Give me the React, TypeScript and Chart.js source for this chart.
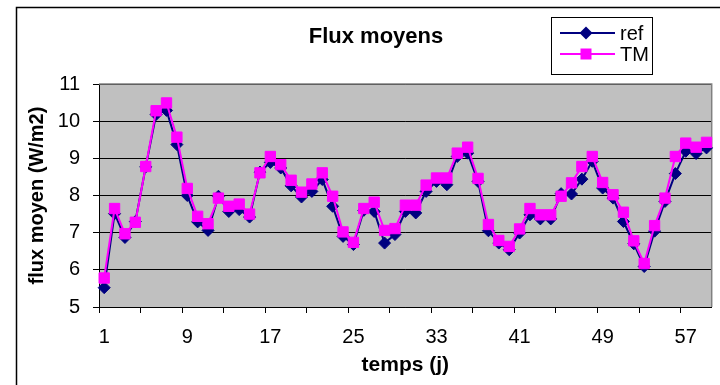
import React, { useEffect, useRef } from "react";
import { Chart, registerables } from "chart.js";

Chart.register(...registerables);

const categories: string[] = Array.from({ length: 59 }, (_, i) => String(i + 1));

const refValues: number[] = [
  5.52, 7.51, 6.87, 7.30, 8.77, 10.18, 10.29, 9.37, 8.00, 7.29,
  7.06, 7.98, 7.57, 7.62, 7.42, 8.63, 8.89, 8.74, 8.26, 7.96,
  8.11, 8.43, 7.71, 6.90, 6.68, 7.60, 7.57, 6.72, 6.95, 7.57,
  7.53, 8.11, 8.38, 8.29, 9.05, 9.14, 8.38, 7.05, 6.72, 6.54,
  6.99, 7.48, 7.37, 7.37, 8.05, 8.04, 8.44, 8.92, 8.20, 7.93,
  7.30, 6.70, 6.09, 7.04, 7.84, 8.59, 9.19, 9.13, 9.28,
];

const tmValues: number[] = [
  5.78, 7.65, 6.97, 7.28, 8.78, 10.28, 10.49, 9.57, 8.19, 7.44,
  7.24, 7.93, 7.71, 7.77, 7.50, 8.61, 9.05, 8.83, 8.41, 8.09,
  8.31, 8.61, 7.98, 7.02, 6.74, 7.65, 7.82, 7.06, 7.11, 7.74,
  7.74, 8.28, 8.47, 8.47, 9.14, 9.30, 8.46, 7.22, 6.79, 6.63,
  7.10, 7.65, 7.48, 7.48, 7.98, 8.34, 8.78, 9.05, 8.35, 8.02,
  7.55, 6.78, 6.17, 7.19, 7.93, 9.05, 9.41, 9.30, 9.43,
];

const seriesNames: string[] = ["ref", "TM"];
const chartTitle = "Flux moyens";
const xTitle = "temps (j)";
const yTitle = "flux moyen (W/m2)";

const FONT = "'Liberation Sans', Arial, sans-serif";
const NAVY = "#000080";
const MAGENTA = "#FF00FF";

const decorPlugin = {
  id: "decor",
  beforeDraw(chart: any) {
    const { ctx, chartArea } = chart;
    ctx.save();
    ctx.fillStyle = "#ffffff";
    ctx.fillRect(0, 0, chart.width, chart.height);
    ctx.fillStyle = "#C0C0C0";
    ctx.fillRect(chartArea.left, chartArea.top, chartArea.right - chartArea.left, chartArea.bottom - chartArea.top);
    ctx.restore();
  },
  beforeDatasetsDraw(chart: any) {
    const { ctx, chartArea } = chart;
    ctx.save();
    ctx.strokeStyle = "#808080";
    ctx.lineWidth = 1.5;
    ctx.beginPath();
    ctx.moveTo(chartArea.left, chartArea.top);
    ctx.lineTo(chartArea.right, chartArea.top);
    ctx.lineTo(chartArea.right, chartArea.bottom);
    ctx.stroke();
    ctx.restore();
  },
  afterDraw(chart: any) {
    const { ctx } = chart;
    ctx.save();
    // outer chart border (top and left visible)
    ctx.strokeStyle = "#000000";
    ctx.lineWidth = 1.5;
    ctx.beginPath();
    ctx.moveTo(16.5, chart.height + 2);
    ctx.lineTo(16.5, 7.5);
    ctx.lineTo(chart.width + 2, 7.5);
    ctx.stroke();

    // title
    ctx.fillStyle = "#000000";
    ctx.font = `bold 22px ${FONT}`;
    ctx.textAlign = "center";
    ctx.textBaseline = "middle";
    ctx.fillText(chartTitle, 376, 37);

    // legend box
    ctx.fillStyle = "#ffffff";
    ctx.fillRect(551, 17, 102, 58);
    ctx.strokeStyle = "#000000";
    ctx.lineWidth = 1;
    ctx.strokeRect(551.5, 17.5, 101, 57);

    const rows = [
      { y: 33, color: NAVY, shape: "diamond", label: seriesNames[0] },
      { y: 54, color: MAGENTA, shape: "square", label: seriesNames[1] },
    ];
    rows.forEach((r) => {
      ctx.strokeStyle = r.color;
      ctx.lineWidth = 2;
      ctx.beginPath();
      ctx.moveTo(560, r.y);
      ctx.lineTo(615, r.y);
      ctx.stroke();
      ctx.fillStyle = r.color;
      ctx.beginPath();
      if (r.shape === "diamond") {
        ctx.moveTo(586, r.y - 6.5);
        ctx.lineTo(592.5, r.y);
        ctx.lineTo(586, r.y + 6.5);
        ctx.lineTo(579.5, r.y);
        ctx.closePath();
      } else {
        ctx.rect(580.5, r.y - 5.5, 11, 11);
      }
      ctx.fill();
      ctx.fillStyle = "#000000";
      ctx.font = `20px ${FONT}`;
      ctx.textAlign = "left";
      ctx.textBaseline = "middle";
      ctx.fillText(r.label, 620, r.y + 1);
    });
    ctx.restore();
  },
};

export default function App() {
  const canvasRef = useRef<HTMLCanvasElement | null>(null);

  useEffect(() => {
    document.body.style.margin = "0";
    const canvas = canvasRef.current;
    if (!canvas) return;
    const chart = new Chart(canvas, {
      type: "line",
      data: {
        labels: categories,
        datasets: [
          {
            label: seriesNames[0],
            data: refValues,
            borderColor: NAVY,
            backgroundColor: NAVY,
            borderWidth: 2,
            pointStyle: "rectRot",
            pointRadius: 6,
            pointBorderWidth: 1,
            pointBackgroundColor: NAVY,
            pointBorderColor: NAVY,
            tension: 0,
            order: 1,
          },
          {
            label: seriesNames[1],
            data: tmValues,
            borderColor: MAGENTA,
            backgroundColor: MAGENTA,
            borderWidth: 2,
            pointStyle: "rect",
            pointRadius: 7.3,
            pointBorderWidth: 1,
            pointBackgroundColor: MAGENTA,
            pointBorderColor: MAGENTA,
            tension: 0,
            order: 0,
          },
        ],
      },
      options: {
        responsive: false,
        animation: false,
        devicePixelRatio: 1,
        layout: { padding: { top: 84, right: 8, left: 0, bottom: 0 } },
        plugins: {
          legend: { display: false },
          title: { display: false },
          tooltip: { enabled: false },
        },
        scales: {
          x: {
            type: "category",
            offset: true,
            afterFit: (scale: any) => {
              scale.height = 78;
            },
            grid: {
              offset: true,
              drawOnChartArea: false,
              drawTicks: true,
              tickLength: 6,
              color: "#000000",
              tickColor: (c: any) => (typeof c.index === "number" && c.index % 4 === 0 ? "#000000" : "rgba(0,0,0,0)"),
            },
            border: { display: true, color: "#000000", width: 1 },
            ticks: {
              autoSkip: false,
              maxRotation: 0,
              minRotation: 0,
              padding: 12,
              color: "#000000",
              font: { family: FONT, size: 20 },
              callback: (_v: any, i: number) => (i % 8 === 0 ? categories[i] : ""),
            },
            title: {
              display: true,
              text: xTitle,
              color: "#000000",
              font: { family: FONT, size: 21, weight: "bold" },
              padding: { top: 0, bottom: 7 },
            },
          },
          y: {
            min: 5,
            max: 11,
            afterFit: (scale: any) => {
              scale.width = 99;
            },
            grid: {
              color: "#000000",
              lineWidth: 1,
              drawTicks: true,
              tickLength: 6,
              tickColor: "#000000",
            },
            border: { display: true, color: "#000000", width: 1 },
            ticks: {
              stepSize: 1,
              padding: 13,
              color: "#000000",
              font: { family: FONT, size: 20 },
            },
            title: {
              display: true,
              text: yTitle,
              color: "#000000",
              font: { family: FONT, size: 20, weight: "bold" },
              padding: { top: 25, bottom: 0 },
            },
          },
        },
      },
      plugins: [decorPlugin],
    });
    return () => chart.destroy();
  }, []);

  return (
    <div style={{ position: "relative", width: 720, height: 385 }}>
      <canvas ref={canvasRef} width={720} height={385} />
    </div>
  );
}
